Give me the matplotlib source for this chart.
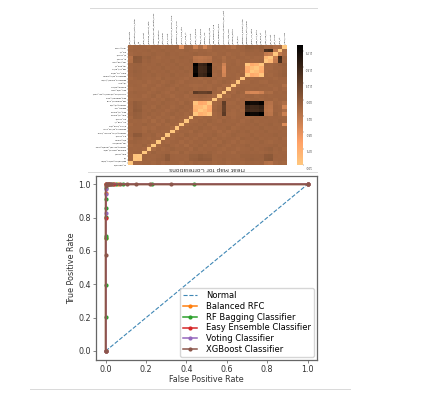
import numpy as np
import matplotlib
matplotlib.use('Agg')
import matplotlib.pyplot as plt
from matplotlib.lines import Line2D

# labels are barely readable in the picture, lengths follow what is visible
features = ['src_packets', 'destination_bytes_total', 'ttl', 'flow_count', 'average_packet_rate',
            'forward_packet_length_max', 'idle_duration', 'rate_mean', 'ack_count',
            'forward_inter_arrival_time', 'backward_bytes_sum', 'active_time_std', 'syn_flag_ct',
            'psh_count', 'flow_iat_mean', 'bwd_iat_mean', 'header_len', 'forward_iat_std',
            'fwd_segment_avg', 'bwd_segment_avg', 'connection_attempts_per_host', 'bulk_rate_avg',
            'subflow_bytes', 'init_win', 'backward_packet_total', 'backward_pkts_mean',
            'down_up_ratio', 'fwd_act_data', 'urg_flag_ct', 'min_seg_size', 'fin_count',
            'rst_count', 'ece_ct', 'label_class']

corr_rows = [
    [100],
    [12, 100],
    [12, 96, 100],
    [10, 8, 8, 100],
    [9, 10, 9, 12, 100],
    [11, 9, 10, 7, 14, 100],
    [8, 7, 8, 10, 8, 12, 100],
    [12, 6, 7, 9, 11, 8, 10, 100],
    [9, -1, 0, 8, 9, 7, 12, 9, 100],
    [10, 8, 8, 11, 7, 10, 9, 12, 11, 100],
    [10, 9, 9, 13, 10, 12, 8, 9, 10, 14, 100],
    [13, 8, 9, 7, 10, 9, 13, 8, 11, 9, 12, 100],
    [9, 10, 9, 11, 8, 14, 9, 12, 7, 10, 9, 13, 100],
    [11, 4, 5, 9, 12, 8, 11, 9, 10, 13, 8, 10, 12, 100],
    [8, 3, 5, 9, 7, 10, 8, 11, 9, 7, 10, 8, 11, 9, 100],
    [10, 0, 1, 8, 10, 7, 9, 8, 12, 9, 7, 10, 8, 11, 78, 100],
    [9, 2, 3, 10, 8, 11, 7, 10, 8, 11, 9, 7, 10, 8, 84, 88, 100],
    [8, 2, 4, 7, 9, 8, 10, 7, 9, 10, 8, 11, 7, 9, 96, 72, 76, 100],
    [11, 10, 10, 9, 8, 12, 9, 11, 7, 8, 12, 9, 10, 11, 12, 10, 11, 13, 100],
    [10, 9, 8, 12, 10, 7, 11, 8, 10, 13, 9, 8, 12, 9, 8, 6, 7, 9, 14, 100],
    [9, 7, 8, 8, 11, 9, 7, 10, 12, 8, 10, 9, 7, 11, -30, -25, -24, -28, 10, 11, 100],
    [12, 10, 9, 10, 8, 11, 9, 8, 10, 12, 7, 10, 9, 8, 11, 9, 10, 12, 8, 14, 9, 100],
    [10, 8, 9, 13, 9, 8, 12, 9, 7, 9, 11, 8, 10, 12, 13, 12, 10, 11, 9, 8, 12, 13, 100],
    [9, 9, 10, 8, 12, 10, 8, 11, 9, 7, 10, 12, 8, 9, 10, 9, 11, 8, 12, 10, 7, 9, 14, 100],
    [11, 8, 7, 9, 10, 9, 11, 7, 10, 9, 8, 10, 12, 8, 9, 11, 8, 10, 9, 12, 10, 8, 9, 13, 100],
    [9, 6, 7, 8, 9, 7, 10, 8, 9, 7, 10, 8, 9, 11, -82, -48, -52, -78, 12, 9, 38, 10, 9, 11, 8, 100],
    [8, 5, 6, 9, 7, 10, 8, 9, 7, 10, 8, 9, 7, 10, -75, -44, -46, -72, 10, 8, 42, 9, 10, 8, 11, 72, 100],
    [9, 6, 7, 8, 10, 8, 9, 7, 10, 8, 9, 7, 10, 8, -76, -45, -48, -73, 9, 11, 42, 8, 10, 9, 9, 78, 90, 100],
    [8, 7, 6, 10, 8, 9, 7, 10, 8, 9, 7, 10, 8, 9, -84, -50, -54, -80, 11, 10, 36, 10, 8, 11, 9, 98, 74, 80, 100],
    [20, -2, -1, 8, 6, 9, 10, 8, 9, 7, 10, 8, 9, 7, 22, 24, 22, 20, 9, 8, 15, 10, 9, 12, 10, 10, 12, 11, 10, 100],
    [22, -3, -2, 7, 5, 8, 11, 9, 8, 10, 9, 7, 8, 9, 24, 26, 24, 22, 8, 10, 17, 9, 11, 8, 9, 11, 10, 12, 11, 86, 100],
    [12, 9, 8, 10, 9, 7, 9, 10, 7, 9, 8, 10, 9, 8, 7, 9, 8, 10, 11, 9, 8, 12, 10, 9, 11, 8, 9, 8, 9, 30, 34, 100],
    [10, 8, 9, 8, 7, 10, 8, 7, 9, 8, 10, 9, 7, 9, 11, 9, 10, 12, 8, 9, 10, 8, 9, 10, 8, 6, 7, 8, 6, -40, -45, 28, 100],
    [11, 9, 8, 9, 11, 8, 9, 12, 9, 10, 8, 44, 9, 10, 34, 16, 38, 18, 9, 10, 8, 12, 18, 10, 9, 4, 5, 6, 4, 10, 9, 16, 14, 100],
]

cbar_ticks = [-0.75, -0.5, -0.25, 0.0, 0.25, 0.5, 0.75, 1.0]

normal_x = [0.0, 1.0]
normal_y = [0.0, 1.0]
brfc_x = [0.0, 0.0, 0.0, 0.004, 0.012, 0.03, 0.06, 1.0]
brfc_y = [0.0, 0.68, 0.95, 1.0, 1.0, 1.0, 1.0, 1.0]
bag_x = [0.0, 0.0, 0.0, 0.0, 0.0, 0.0, 0.0, 0.0, 0.0, 0.008, 0.02, 0.035, 0.05, 0.085, 0.23, 0.44, 1.0]
bag_y = [0.0, 0.205, 0.395, 0.68, 0.69, 0.805, 0.86, 0.91, 0.98, 1.0, 1.0, 1.0, 1.0, 1.0, 1.0, 1.0, 1.0]
easy_x = [0.0, 0.0, 0.002, 0.015, 0.04, 1.0]
easy_y = [0.0, 0.8, 1.0, 1.0, 1.0, 1.0]
vote_x = [0.0, 0.0, 0.0, 0.0, 0.006, 0.025, 1.0]
vote_y = [0.0, 0.83, 0.94, 0.97, 1.0, 1.0, 1.0]
xgb_x = [0.0, 0.0, 0.0, 0.003, 0.01, 0.018, 0.028, 0.07, 0.105, 0.148, 0.218, 0.323, 1.0]
xgb_y = [0.0, 0.575, 0.99, 1.0, 1.0, 1.0, 1.0, 1.0, 1.0, 1.0, 1.0, 1.0, 1.0]

W, H = 424.0, 396.0

def box(left, top, right, bottom):
    return [left / W, 1 - bottom / H, (right - left) / W, (bottom - top) / H]

n = len(corr_rows)
corr = np.zeros((n, n))
for i, row in enumerate(corr_rows):
    corr[i, :len(row)] = np.array(row) / 100.0
    corr[:len(row), i] = np.array(row) / 100.0

fig = plt.figure(figsize=(4.24, 3.96), dpi=100)

# source picture has the heat map flipped upside down
ax = fig.add_axes(box(128, 45, 287, 165))
im = ax.imshow(corr, cmap='copper', origin='lower', aspect='auto', vmin=-0.84, vmax=1.0, interpolation='nearest')
ax.xaxis.tick_top()
ax.set_xticks(range(n))
ax.set_xticklabels(features, rotation=90, fontsize=1.65, color='#222222')
ax.set_yticks(range(n))
ax.set_yticklabels(features, rotation=180, fontsize=1.65, color='#222222')
ax.tick_params(length=0.8, width=0.2, pad=0.6)
for s in ax.spines.values():
    s.set_visible(False)
ax.set_xlabel('Heat Map for Correlations', rotation=180, fontsize=4.2, color='#333333', labelpad=0.5)

cax = fig.add_axes(box(297, 45, 303, 165))
cbar = fig.colorbar(im, cax=cax, ticks=cbar_ticks)
cax.invert_yaxis()
cbar.ax.set_yticklabels(['%.2f' % t for t in cbar_ticks], rotation=180, fontsize=2.1, color='#444444')
cbar.ax.tick_params(length=0.8, width=0.2, pad=0.6)
cbar.outline.set_visible(False)

ax2 = fig.add_axes(box(96, 176, 317, 360))
ax2.plot(normal_x, normal_y, linestyle='--', lw=0.8, color='#3f87b5', label='Normal')
ax2.plot(brfc_x, brfc_y, marker='.', ms=4, lw=1.1, label='Balanced RFC', color='C1')
ax2.plot(bag_x, bag_y, marker='.', ms=4, lw=1.1, label='RF Bagging Classifier', color='C2')
ax2.plot(easy_x, easy_y, marker='.', ms=4, lw=1.1, label='Easy Ensemble Classifier', color='C3')
ax2.plot(vote_x, vote_y, marker='.', ms=4, lw=1.1, label='Voting Classifier', color='C4')
ax2.plot(xgb_x, xgb_y, marker='.', ms=4, lw=1.1, label='XGBoost Classifier', color='C5')
ax2.set_xlim(-0.048, 1.047)
ax2.set_ylim(-0.054, 1.05)
ax2.set_xticks([0, 0.2, 0.4, 0.6, 0.8, 1.0])
ax2.set_yticks([0, 0.2, 0.4, 0.6, 0.8, 1.0])
ax2.tick_params(labelsize=5.8, length=2, width=0.5, pad=1.5, labelcolor='#333333', color='#555555')
ax2.set_xlabel('False Positive Rate', fontsize=5.8, color='#333333', labelpad=1)
ax2.set_ylabel('True Positive Rate', fontsize=5.8, color='#333333', labelpad=2)
for s in ax2.spines.values():
    s.set_linewidth(0.9)
    s.set_color('#666666')
ax2.legend(loc='lower right', fontsize=6, borderaxespad=0.35, labelspacing=0.22, handlelength=1.7,
           handletextpad=1.1, borderpad=0.35)

# page rules around the pasted figures
for x0, x1, y in [(90, 317, 7.5), (88, 317, 172), (30, 350, 389)]:
    fig.add_artist(Line2D([x0 / W, x1 / W], [1 - y / H, 1 - y / H], color='#d9d9d9', lw=0.7))

fig.savefig('out.png', dpi=100)
